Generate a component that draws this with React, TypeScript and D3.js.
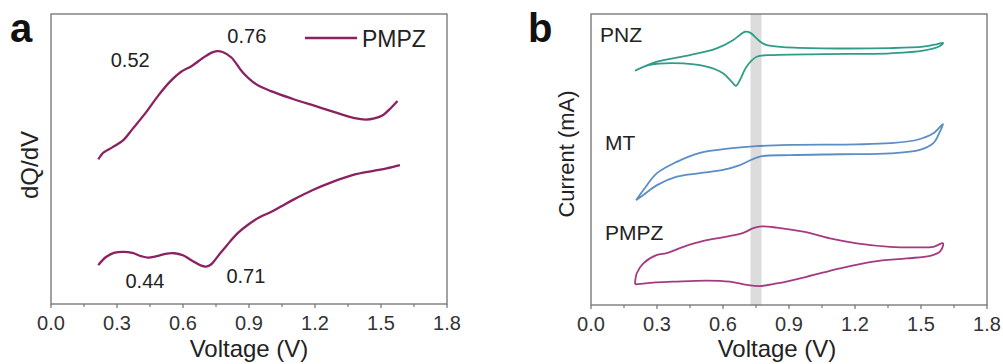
import React from "react";
import * as d3 from "d3";

// ---- shared axis values ----
const voltageTicks = [0, 0.3, 0.6, 0.9, 1.2, 1.5, 1.8];
const voltageMinorTicks = [0.15, 0.45, 0.75, 1.05, 1.35, 1.65];

// ---- panel a: dQ/dV of PMPZ (arbitrary units) ----
const dqdvCharge: [number, number][] = [
  [0.215, 4.99], [0.235, 5.2], [0.25, 5.28], [0.28, 5.41], [0.33, 5.66], [0.37, 6.03],
  [0.43, 6.59], [0.49, 7.21], [0.54, 7.66], [0.59, 8.0], [0.64, 8.21], [0.69, 8.48],
  [0.73, 8.67], [0.755, 8.72], [0.78, 8.69], [0.82, 8.5], [0.87, 8.0], [0.93, 7.59],
  [1.0, 7.34], [1.1, 7.07], [1.2, 6.83], [1.3, 6.59], [1.38, 6.41], [1.43, 6.36],
  [1.47, 6.4], [1.51, 6.52], [1.545, 6.76], [1.575, 7.0],
];
const dqdvDischarge: [number, number][] = [
  [0.215, 1.34], [0.25, 1.62], [0.29, 1.77], [0.33, 1.8], [0.37, 1.76], [0.41, 1.65],
  [0.44, 1.6], [0.48, 1.65], [0.52, 1.73], [0.56, 1.75], [0.6, 1.68], [0.64, 1.5],
  [0.68, 1.33], [0.705, 1.29], [0.73, 1.38], [0.76, 1.66], [0.8, 2.03], [0.85, 2.45],
  [0.9, 2.76], [0.95, 3.0], [1.0, 3.17], [1.05, 3.38], [1.1, 3.59], [1.19, 3.93],
  [1.283, 4.22], [1.374, 4.45], [1.465, 4.59], [1.526, 4.68], [1.586, 4.79],
];
const peakLabels: { text: string; v: number; y: number }[] = [
  { text: "0.52", v: 0.36, y: 8.17 },
  { text: "0.76", v: 0.89, y: 9.0 },
  { text: "0.44", v: 0.427, y: 0.55 },
  { text: "0.71", v: 0.886, y: 0.72 },
];

// ---- panel b: cyclic voltammograms (stacked, arbitrary units) ----
const cvPNZ: [number, number][] = [
  [0.2, 8.05], [0.3, 8.36], [0.45, 8.59], [0.571, 8.82], [0.647, 9.11], [0.677, 9.28],
  [0.7, 9.39], [0.723, 9.36], [0.753, 9.16], [0.776, 9.01], [0.8, 8.93], [0.874, 8.86],
  [1.056, 8.82], [1.36, 8.83], [1.51, 8.88], [1.571, 8.96], [1.6, 9.01],
  [1.586, 8.9], [1.51, 8.74], [1.36, 8.65], [1.056, 8.62], [0.83, 8.59], [0.753, 8.53],
  [0.707, 8.19], [0.677, 7.73], [0.659, 7.53], [0.64, 7.67], [0.6, 7.96], [0.526, 8.19],
  [0.374, 8.31], [0.268, 8.25], [0.208, 8.08], [0.2, 8.05],
];
const cvMT: [number, number][] = [
  [0.205, 3.6], [0.238, 3.95], [0.3, 4.53], [0.39, 4.92], [0.495, 5.23], [0.632, 5.38],
  [0.753, 5.46], [0.905, 5.5], [1.208, 5.52], [1.36, 5.56], [1.48, 5.67], [1.556, 5.9],
  [1.6, 6.22],
  [1.586, 5.96], [1.556, 5.56], [1.495, 5.33], [1.36, 5.21], [1.132, 5.18], [0.905, 5.15],
  [0.768, 5.1], [0.677, 4.81], [0.6, 4.64], [0.495, 4.53], [0.39, 4.41], [0.3, 4.12],
  [0.238, 3.78], [0.205, 3.6],
];
const cvPMPZ: [number, number][] = [
  [0.2, 0.71], [0.208, 1.09], [0.238, 1.43], [0.3, 1.72], [0.344, 1.78], [0.42, 2.0],
  [0.48, 2.14], [0.526, 2.23], [0.617, 2.35], [0.692, 2.48], [0.738, 2.64], [0.776, 2.7],
  [0.844, 2.66], [0.965, 2.52], [1.086, 2.29], [1.208, 2.12], [1.36, 2.0], [1.48, 1.98],
  [1.556, 2.0], [1.6, 2.12],
  [1.586, 1.83], [1.541, 1.69], [1.435, 1.6], [1.283, 1.49], [1.132, 1.26], [0.98, 0.97],
  [0.844, 0.74], [0.768, 0.65], [0.708, 0.69], [0.632, 0.8], [0.526, 0.84], [0.374, 0.8],
  [0.283, 0.77], [0.2, 0.71],
];
const cvSeries = [
  { name: "PNZ", data: cvPNZ, color: "#2f9c8a", labelV: 0.041, labelY: 9.04 },
  { name: "MT", data: cvMT, color: "#5b8dc6", labelV: 0.064, labelY: 5.33 },
  { name: "PMPZ", data: cvPMPZ, color: "#a53a80", labelV: 0.064, labelY: 2.23 },
];
const highlightBand: [number, number] = [0.725, 0.775];

const FONT = "'Liberation Sans', Arial, Helvetica, sans-serif";
const FRAME = "#707070";
const TEXT = "#222";

type Frame = { left: number; right: number; top: number; bottom: number };

function Axes({ f, x }: { f: Frame; x: d3.ScaleLinear<number, number> }) {
  return (
    <g>
      <rect x={f.left} y={f.top} width={f.right - f.left} height={f.bottom - f.top}
        fill="none" stroke={FRAME} strokeWidth={1.3} />
      {voltageTicks.map((t) => (
        <g key={"M" + t}>
          <line x1={x(t)} x2={x(t)} y1={f.bottom} y2={f.bottom + 4} stroke={FRAME} strokeWidth={1.2} />
          <text x={x(t)} y={f.bottom + 26} textAnchor="middle" fontSize={20} fill="#333">
            {t.toFixed(1)}
          </text>
        </g>
      ))}
      {voltageMinorTicks.map((t) => (
        <line key={"m" + t} x1={x(t)} x2={x(t)} y1={f.bottom} y2={f.bottom + 3}
          stroke={FRAME} strokeWidth={1.1} />
      ))}
    </g>
  );
}

export default function App() {
  // panel a
  const fa: Frame = { left: 51, right: 447, top: 14, bottom: 304 };
  const xa = d3.scaleLinear().domain([0, 1.8]).range([fa.left, fa.right]);
  const ya = d3.scaleLinear().domain([0, 10]).range([fa.bottom, fa.top]);
  const lineA = d3.line<[number, number]>().x((d) => xa(d[0])).y((d) => ya(d[1]))
    .curve(d3.curveCatmullRom.alpha(0.5));

  // panel b
  const fb: Frame = { left: 591, right: 987, top: 14, bottom: 305 };
  const xb = d3.scaleLinear().domain([0, 1.8]).range([fb.left, fb.right]);
  const yb = d3.scaleLinear().domain([0, 10]).range([fb.bottom, fb.top]);
  const lineB = d3.line<[number, number]>().x((d) => xb(d[0])).y((d) => yb(d[1]))
    .curve(d3.curveCatmullRom.alpha(0.5));

  const magenta = "#8a2262";

  return (
    <svg width={1003} height={364} style={{ position: "absolute", left: 0, top: 0, background: "#fff" }}
      fontFamily={FONT}>
      <rect width={1003} height={364} fill="#fff" />

      {/* ---------- panel a ---------- */}
      <text x={10} y={42} fontSize={40} fontWeight="bold" fill="#111">a</text>
      <Axes f={fa} x={xa} />
      <path d={lineA(dqdvCharge) ?? ""} fill="none" stroke={magenta} strokeWidth={2.3} />
      <path d={lineA(dqdvDischarge) ?? ""} fill="none" stroke={magenta} strokeWidth={2.3} />
      {peakLabels.map((p) => (
        <text key={p.text} x={xa(p.v)} y={ya(p.y)} textAnchor="middle" fontSize={20} fill={TEXT}>
          {p.text}
        </text>
      ))}
      <line x1={305} x2={357} y1={38} y2={38} stroke={magenta} strokeWidth={2.3} />
      <text x={362} y={47} fontSize={23} fill={TEXT}>PMPZ</text>
      <text transform="translate(38,165) rotate(-90)" textAnchor="middle" fontSize={24} fill={TEXT}>
        dQ/dV
      </text>
      <text x={(fa.left + fa.right) / 2} y={357} textAnchor="middle" fontSize={24} fill={TEXT}>
        Voltage (V)
      </text>

      {/* ---------- panel b ---------- */}
      <text x={528} y={42} fontSize={40} fontWeight="bold" fill="#111">b</text>
      <rect x={xb(highlightBand[0])} y={fb.top} width={xb(highlightBand[1]) - xb(highlightBand[0])}
        height={fb.bottom - fb.top} fill="#dcdcdc" />
      <Axes f={fb} x={xb} />
      {cvSeries.map((s) => (
        <g key={s.name}>
          <path d={lineB(s.data) ?? ""} fill="none" stroke={s.color} strokeWidth={1.8} />
          <text x={xb(s.labelV)} y={yb(s.labelY)} fontSize={21} fill={TEXT}>{s.name}</text>
        </g>
      ))}
      <text transform="translate(574,154) rotate(-90)" textAnchor="middle" fontSize={22} fill={TEXT}>
        Current (mA)
      </text>
      <text x={777} y={357} textAnchor="middle" fontSize={24} fill={TEXT}>
        Voltage (V)
      </text>
    </svg>
  );
}
